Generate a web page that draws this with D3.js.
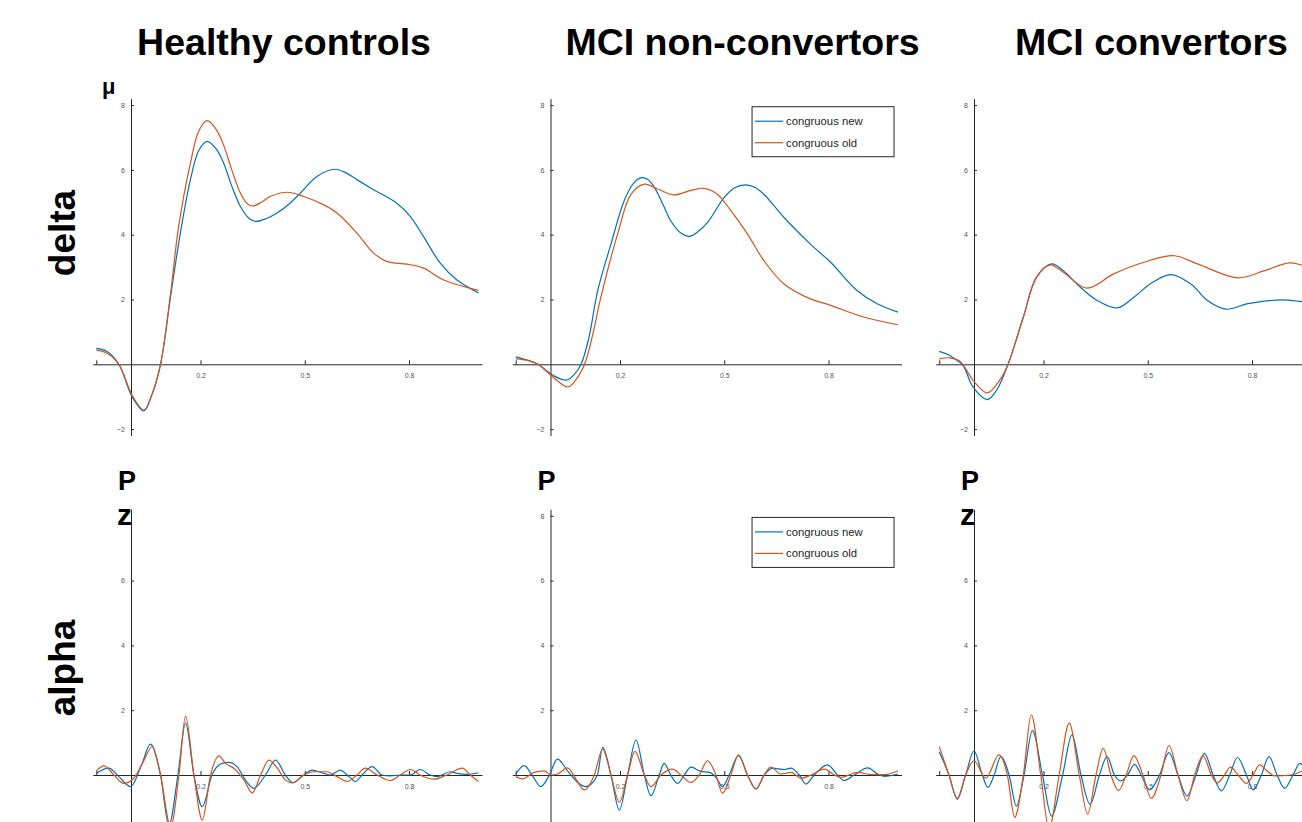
<!DOCTYPE html>
<html>
<head>
<meta charset="utf-8">
<script src="https://cdn.jsdelivr.net/npm/d3@7"></script>
<style>
  body { margin: 0; background: #fff; }
  svg { display: block; font-family: "Liberation Sans", Arial, sans-serif; }
</style>
</head>
<body>
<div id="container"></div>
<script>
// groups, bands, conditions
let groups = ["Healthy controls", "MCI non-convertors", "MCI convertors"];
let bands = ["delta", "alpha"];
let conditions = ["congruous new", "congruous old"];
let colors = ["#0072BD", "#D95319"];

let xTicks = [-0.1, 0.2, 0.5, 0.8];
let yTicks = [-2, 2, 4, 6, 8];

// [time (s), amplitude]
let deltaHealthyNew = [[-0.1,0.49],[-0.07,0.4],[-0.035,0],[0.003,-1.0],[0.037,-1.44],[0.06,-0.95],[0.085,0],[0.114,2.1],[0.142,4.05],[0.171,5.7],[0.195,6.6],[0.219,6.88],[0.245,6.65],[0.267,6.2],[0.29,5.5],[0.315,4.87],[0.34,4.5],[0.36,4.41],[0.39,4.5],[0.42,4.67],[0.455,4.95],[0.487,5.28],[0.535,5.8],[0.588,6.02],[0.62,5.9],[0.65,5.7],[0.698,5.39],[0.765,4.97],[0.804,4.56],[0.842,3.94],[0.89,3.12],[0.938,2.6],[1.0,2.2]];
let deltaHealthyOld = [[-0.1,0.44],[-0.07,0.35],[-0.035,0],[0.003,-0.95],[0.037,-1.41],[0.06,-0.93],[0.085,0],[0.114,2.2],[0.137,4.25],[0.171,6.21],[0.195,7.2],[0.219,7.52],[0.245,7.25],[0.267,6.75],[0.29,6.0],[0.315,5.28],[0.335,4.95],[0.353,4.89],[0.375,5.0],[0.401,5.18],[0.449,5.31],[0.497,5.18],[0.555,4.92],[0.593,4.67],[0.65,4.05],[0.698,3.43],[0.737,3.17],[0.794,3.09],[0.842,2.97],[0.9,2.6],[1.0,2.28]];
let deltaNonConvNew = [[-0.1,0.23],[-0.065,0.12],[-0.036,0],[0.007,-0.34],[0.045,-0.49],[0.068,-0.32],[0.088,0],[0.11,0.8],[0.136,2.28],[0.174,3.71],[0.212,5.05],[0.24,5.6],[0.262,5.76],[0.28,5.7],[0.299,5.46],[0.325,4.9],[0.346,4.43],[0.375,4.05],[0.401,3.95],[0.425,4.1],[0.452,4.38],[0.5,5.15],[0.53,5.45],[0.562,5.54],[0.59,5.45],[0.614,5.25],[0.672,4.53],[0.748,3.71],[0.806,3.15],[0.882,2.28],[0.94,1.87],[1.0,1.61]];
let deltaNonConvOld = [[-0.1,0.17],[-0.065,0.12],[-0.036,0],[0.007,-0.39],[0.05,-0.7],[0.075,-0.45],[0.098,0],[0.12,0.85],[0.145,2.07],[0.193,4.02],[0.232,5.25],[0.27,5.56],[0.308,5.41],[0.356,5.23],[0.404,5.37],[0.442,5.43],[0.48,5.25],[0.519,4.74],[0.567,4.02],[0.614,3.2],[0.672,2.48],[0.748,2.02],[0.806,1.82],[0.901,1.46],[1.0,1.22]];
let deltaConvNew = [[-0.1,0.4],[-0.075,0.3],[-0.056,0.17],[-0.032,-0.03],[-0.003,-0.7],[0.038,-1.09],[0.065,-0.8],[0.098,0],[0.142,1.46],[0.18,2.69],[0.224,3.1],[0.257,2.89],[0.306,2.38],[0.354,1.97],[0.412,1.74],[0.46,2.07],[0.51,2.5],[0.566,2.77],[0.624,2.48],[0.672,1.97],[0.725,1.7],[0.788,1.87],[0.884,1.99],[0.948,1.93],[1.0,1.88]];
let deltaConvOld = [[-0.1,0.17],[-0.07,0.2],[-0.041,0.1],[-0.003,-0.49],[0.038,-0.88],[0.074,-0.49],[0.098,0],[0.142,1.46],[0.18,2.69],[0.219,3.07],[0.257,2.84],[0.325,2.35],[0.402,2.79],[0.489,3.15],[0.576,3.35],[0.643,3.1],[0.759,2.67],[0.836,2.89],[0.908,3.13],[0.948,3.05],[1.0,2.95]];

let alphaHealthyNew = [[-0.1,0.05],[-0.064,0.21],[-0.035,-0.05],[-0.001,-0.36],[0.03,0.3],[0.056,0.95],[0.085,0],[0.109,-1.55],[0.135,0],[0.157,1.6],[0.181,0],[0.205,-0.98],[0.233,0],[0.262,0.36],[0.281,0.39],[0.305,0.26],[0.329,-0.15],[0.353,-0.41],[0.387,0],[0.416,0.46],[0.444,0],[0.466,-0.24],[0.497,0],[0.521,0.15],[0.555,0.05],[0.574,0],[0.602,0.15],[0.627,-0.05],[0.646,-0.2],[0.665,0],[0.694,0.26],[0.722,0],[0.746,-0.03],[0.775,0],[0.804,0],[0.832,0.17],[0.861,0],[0.88,-0.05],[0.919,0.1],[0.938,0.05],[0.967,0.02],[1.0,0.07]];
let alphaHealthyOld = [[-0.1,0.12],[-0.078,0.28],[-0.049,0],[-0.021,-0.26],[0.008,-0.1],[0.035,0.4],[0.061,0.88],[0.085,0],[0.114,-1.6],[0.138,0],[0.157,1.82],[0.181,0],[0.205,-1.39],[0.229,0],[0.253,0.59],[0.272,0.36],[0.296,0.21],[0.325,-0.15],[0.349,-0.55],[0.373,0],[0.397,0.46],[0.421,0.21],[0.444,-0.15],[0.464,-0.24],[0.497,0],[0.526,0.1],[0.564,0.1],[0.593,-0.05],[0.622,-0.2],[0.65,0],[0.674,0.21],[0.708,0],[0.746,-0.17],[0.775,0],[0.804,0.17],[0.832,0],[0.871,-0.13],[0.909,0],[0.953,0.21],[0.976,0],[1.0,-0.2]];
let alphaNonConvNew = [[-0.1,0.03],[-0.076,0.29],[-0.052,-0.02],[-0.028,-0.36],[-0.004,-0.02],[0.02,0.49],[0.049,0.13],[0.078,-0.23],[0.102,-0.36],[0.135,0],[0.15,0.86],[0.174,0],[0.198,-1.08],[0.222,0],[0.246,1.08],[0.27,0],[0.289,-0.64],[0.313,0],[0.327,0.36],[0.346,0],[0.366,-0.26],[0.385,0],[0.404,0.24],[0.433,0.11],[0.457,0.08],[0.476,-0.07],[0.495,-0.36],[0.514,0],[0.541,0.6],[0.567,0],[0.591,-0.43],[0.615,0],[0.639,0.21],[0.673,0.17],[0.692,0.21],[0.716,0],[0.735,-0.28],[0.759,0],[0.797,0.31],[0.826,0],[0.845,-0.17],[0.874,0],[0.913,0.22],[0.942,0.03],[0.961,-0.04],[1.0,0.03]];
let alphaNonConvOld = [[-0.1,-0.05],[-0.081,-0.12],[-0.047,0.08],[-0.018,0.13],[0.001,0],[0.02,0.03],[0.049,0.22],[0.073,-0.12],[0.097,-0.46],[0.126,0],[0.15,0.8],[0.174,0],[0.198,-0.84],[0.222,0],[0.243,0.73],[0.27,0],[0.289,-0.36],[0.318,0],[0.351,0.18],[0.375,0],[0.404,-0.23],[0.428,0],[0.452,0.44],[0.476,0],[0.495,-0.56],[0.519,0],[0.541,0.62],[0.567,0],[0.591,-0.43],[0.615,0],[0.634,0.24],[0.663,0.03],[0.692,0.08],[0.721,-0.1],[0.75,0],[0.788,0.18],[0.817,0],[0.836,-0.07],[0.884,0.08],[0.922,0.01],[0.961,0.01],[1.0,0.13]];
let alphaConvNew = [[-0.1,0.72],[-0.072,0],[-0.048,-0.75],[-0.024,0],[0,0.74],[0.024,0],[0.04,-0.38],[0.058,0],[0.077,0.57],[0.101,0],[0.122,-0.96],[0.144,0],[0.168,1.37],[0.197,0],[0.223,-1.27],[0.255,0],[0.282,1.24],[0.308,0],[0.334,-0.91],[0.361,0],[0.383,0.57],[0.404,0],[0.423,-0.18],[0.442,0],[0.462,0.33],[0.481,0],[0.505,-0.46],[0.534,0],[0.561,0.69],[0.587,0],[0.613,-0.65],[0.639,0],[0.663,0.67],[0.688,0],[0.712,-0.49],[0.736,0],[0.758,0.54],[0.784,0],[0.803,-0.46],[0.827,0],[0.849,0.57],[0.872,0],[0.894,-0.41],[0.918,0],[0.938,0.36],[0.962,0],[0.981,-0.3],[1.0,0]];
let alphaConvOld = [[-0.1,0.88],[-0.072,0],[-0.048,-0.72],[-0.024,0],[0,0.44],[0.034,-0.1],[0.072,0.62],[0.096,0],[0.117,-1.31],[0.142,0],[0.165,1.86],[0.192,0],[0.216,-1.65],[0.245,0],[0.274,1.6],[0.303,0],[0.327,-1.2],[0.351,0],[0.372,0.82],[0.394,0],[0.416,-0.48],[0.438,0],[0.46,0.6],[0.486,0],[0.51,-0.72],[0.538,0],[0.561,0.91],[0.587,0],[0.613,-0.79],[0.635,0],[0.659,0.6],[0.683,0],[0.7,-0.24],[0.721,0],[0.738,0.24],[0.76,0],[0.784,-0.26],[0.803,0],[0.822,0.31],[0.846,0.1],[0.865,-0.03],[0.913,0],[0.948,0.13],[1.0,0.2]];

let panels = [
  [[deltaHealthyNew, deltaHealthyOld], [deltaNonConvNew, deltaNonConvOld], [deltaConvNew, deltaConvOld]],
  [[alphaHealthyNew, alphaHealthyOld], [alphaNonConvNew, alphaNonConvOld], [alphaConvNew, alphaConvOld]]
];

// layout
let width = 1302, height = 822;
let colZero = [131, 550.5, 974];   // pixel of t = 0
let rowZero = [364.3, 775];        // pixel of amplitude 0
let pxPerSec = 347.5, pxPerUnit = 32.4;
let titleX = [284, 742.5, 1151.5];

let svg = d3.select("#container").append("svg")
  .attr("width", width)
  .attr("height", height);

groups.forEach(function (g, i) {
  svg.append("text")
    .attr("x", titleX[i])
    .attr("y", 55)
    .attr("text-anchor", "middle")
    .attr("font-size", "37.5px")
    .attr("font-weight", "bold")
    .attr("fill", "#000")
    .text(g);
});

let rowLabelY = [233, 668];
bands.forEach(function (b, r) {
  svg.append("text")
    .attr("transform", "translate(75," + rowLabelY[r] + ") rotate(-90)")
    .attr("text-anchor", "middle")
    .attr("font-size", "37px")
    .attr("font-weight", "bold")
    .text(b);
});

let curves = [d3.curveCatmullRom.alpha(0.5), d3.curveMonotoneX];

panels.forEach(function (row, r) {
  row.forEach(function (series, c) {
    let x = d3.scaleLinear()
      .domain([-0.11, 1.01])
      .range([colZero[c] - 0.11 * pxPerSec, colZero[c] + 1.01 * pxPerSec]);
    let y = d3.scaleLinear()
      .domain([-2.2, 8.2])
      .range([rowZero[r] + 2.2 * pxPerUnit, rowZero[r] - 8.2 * pxPerUnit]);

    // ticks hidden below the page or under the "z" label are left out
    let hasZ = (r == 1 && c != 1);
    let ticksHere = yTicks.filter(function (v) {
      return y(v) < height - 6 && !(hasZ && v == 8);
    });

    let g = svg.append("g");

    let xAxis = g.append("g")
      .attr("transform", "translate(0," + y(0) + ")")
      .call(d3.axisBottom(x).tickValues(xTicks).tickSizeInner(-4).tickSizeOuter(0).tickPadding(9)
        .tickFormat(function (d) { return d < 0 ? "" : d3.format(".1f")(d); }));

    let yAxis = g.append("g")
      .attr("transform", "translate(" + x(0) + ",0)")
      .call(d3.axisLeft(y).tickValues(ticksHere).tickSizeInner(-3).tickSizeOuter(0).tickPadding(6));

    [xAxis, yAxis].forEach(function (a) {
      a.select(".domain").attr("stroke", "#262626").attr("stroke-width", 1);
      a.selectAll(".tick line").attr("stroke", "#262626");
      a.selectAll(".tick text").attr("fill", "#555").attr("font-size", "7px")
        .attr("font-family", "Liberation Sans, Arial, sans-serif");
    });

    let line = d3.line()
      .curve(curves[r])
      .x(function (d) { return x(d[0]); })
      .y(function (d) { return y(d[1]); });

    series.forEach(function (s, k) {
      g.append("path")
        .datum(s)
        .attr("d", line)
        .attr("fill", "none")
        .attr("stroke", colors[k])
        .attr("stroke-width", 1.2);
    });

    // legend in the middle column
    if (c == 1) {
      let lx = x(0.58), ly = y(7.95);
      let leg = g.append("g").attr("transform", "translate(" + lx + "," + ly + ")");
      leg.append("rect")
        .attr("width", 142)
        .attr("height", 50)
        .attr("fill", "#fff")
        .attr("stroke", "#262626")
        .attr("stroke-width", 1);
      conditions.forEach(function (name, k) {
        leg.append("line")
          .attr("x1", 3).attr("x2", 31)
          .attr("y1", 14.5 + k * 21.5).attr("y2", 14.5 + k * 21.5)
          .attr("stroke", colors[k])
          .attr("stroke-width", 1.2);
        leg.append("text")
          .attr("x", 34)
          .attr("y", 18.5 + k * 21.5)
          .attr("font-size", "11.3px")
          .attr("fill", "#262626")
          .text(name);
      });
    }

    // stray axis labels
    if (r == 0 && c == 0) {
      svg.append("text")
        .attr("x", 102).attr("y", 94)
        .attr("font-size", "22px").attr("font-weight", "bold")
        .text("μ");
    }
    if (r == 1) {
      svg.append("text")
        .attr("x", x(0) - 13).attr("y", 490)
        .attr("font-size", "27px").attr("font-weight", "bold")
        .text("P");
      if (hasZ) {
        svg.append("text")
          .attr("x", x(0) - 14).attr("y", 525)
          .attr("font-size", "30px").attr("font-weight", "bold")
          .text("z");
      }
    }
  });
});
</script>
</body>
</html>
